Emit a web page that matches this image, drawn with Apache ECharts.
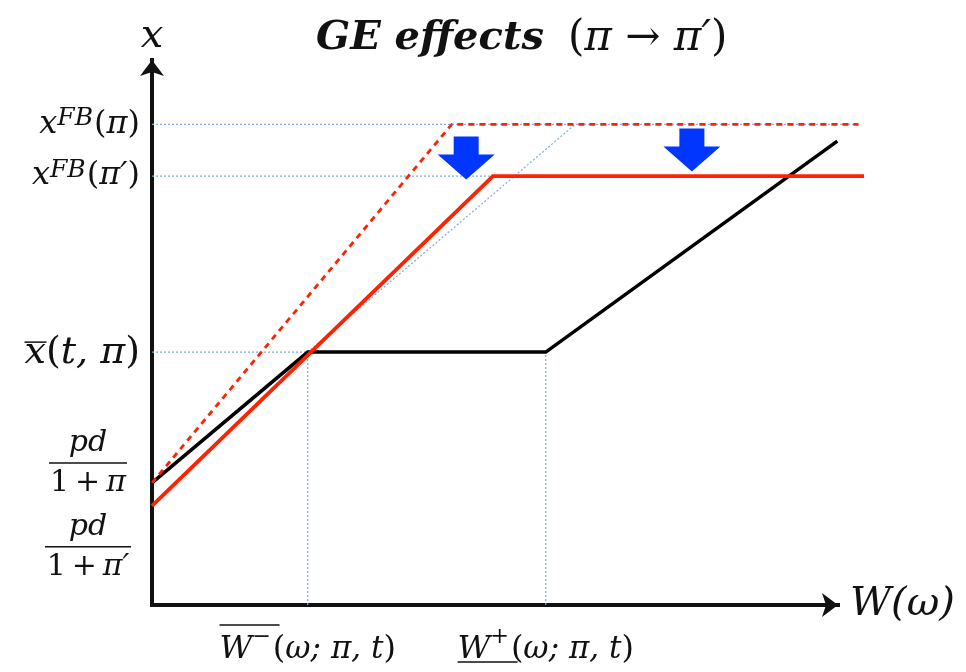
<!DOCTYPE html>
<html>
<head>
<meta charset="utf-8">
<script src="https://cdn.jsdelivr.net/npm/echarts@6/dist/echarts.min.js"></script>
<style>
  html, body { margin: 0; padding: 0; background: #ffffff; }
  #chart { width: 966px; height: 672px; }
</style>
</head>
<body>
<div id="chart"></div>
<script>
// Levels on the vertical axis (x)
const xFB = 88.2;        // x^FB(π)
const xFBprime = 78.7;   // x^FB(π')
const xBar = 46.4;       // x̄(t, π)
const pdPi = 22.4;       // pd/(1+π)
const pdPiPrime = 18.2;  // pd/(1+π')

// Thresholds on the horizontal axis W(ω)
const wMinus = 22.7;     // W̄⁻(ω; π, t)
const wPlus = 57.4;      // W̲⁺(ω; π, t)

// Black schedule: rises to x̄, flat between the thresholds, then rises again
const blackX = [0, wMinus, wPlus, 99.9];
const blackY = [pdPi, xBar, xBar, 85.1];

// Red schedule after the change (π')
const redX = [0, 49.7, 103.8];
const redY = [pdPiPrime, xFBprime, xFBprime];

// Red schedule before the change (π), dashed
const redDashX = [0, 43.7, 103.0];
const redDashY = [pdPi, xFB, xFB];

// Shifted slope guide
const diagX = [wMinus, 61.7];
const diagY = [xBar, xFB];

// Horizontal guide ends
const guideFBEnd = 103.0;
const guideFBprimeEnd = 64.6;

// Down arrows (centres)
const arrowX = [45.8, 78.7];
const arrowY = [82.0, 83.5];

// Tick positions and labels (main vertical axis)
const yTickValues = [pdPi, xBar, xFBprime, xFB];
const yTickLabels = [
  '{fnum|pd}\n{fbar|}\n{fden|1\u2009+\u2009}{fdi|π}\n{g40|}',
  '{xo|}\n{xbi|x}{xbr|(}{xbi|t, π}{xbr|)}',
  '{mi|x}{sup|FB}{rm|(}{mi|π′}{rm|)}',
  '{mi|x}{sup|FB}{rm|(}{mi|π}{rm|)}'
];
// Second label track for the lower intercept (stacked below the first fraction)
const yTickValues2 = [pdPiPrime];
const yTickLabels2 = [
  '{g82|}\n{fnum|pd}\n{fbar2|}\n{fden|1\u2009+\u2009}{fdi|π′}'
];
const xTickValues = [wMinus, wPlus];
const xTickLabels = [
  '{wo|}\n{g12|}\n{wi|W}{wsup|−}{wr|(}{wi2|ω; π, t}{wr|)}',
  '{g18|}\n{wi|W}{wsup|+}{wr|(}{wi2|ω; π, t}{wr|)}\n{wu|}'
];

const FONT = '"DejaVu Serif", "Liberation Serif", serif';
const INK = '#111111';
const RED = '#ff2200';
const GUIDE = '#7ea8f2';
const ARROW = '#0036ff';

// Plot scale: the drawing grid shares the frame's origin and units but reaches further right
const X_MAX = 100, Y_MAX = 100, X_MAX_DRAW = 110;
const LEFT = 152, TOP = 60, BOTTOM = 67, FRAME_RIGHT = 128;
const unitX = (966 - LEFT - FRAME_RIGHT) / X_MAX;
const DRAW_RIGHT = 966 - LEFT - unitX * X_MAX_DRAW;

const zip = (xs, ys) => xs.map((v, i) => [v, ys[i]]);

function guide(points) {
  return {
    type: 'line', xAxisIndex: 1, yAxisIndex: 1, data: points, symbol: 'none', clip: false, silent: true, z: 1,
    lineStyle: { color: GUIDE, width: 1.2, type: [2, 2] }
  };
}

const axisLineStyle = { show: true, onZero: false, symbol: ['none', 'arrow'], symbolSize: [18, 16],
  lineStyle: { color: INK, width: 4, cap: 'square' } };

const yRich = {
  mi: { fontFamily: FONT, fontStyle: 'italic', fontSize: 32, lineHeight: 34, color: INK },
  rm: { fontFamily: FONT, fontSize: 32, lineHeight: 34, color: INK },
  sup: { fontFamily: FONT, fontStyle: 'italic', fontSize: 25, lineHeight: 20, padding: [0, 1, 12, 0], color: INK },
  xo: { width: 22, height: 1.5, lineHeight: 2, backgroundColor: INK, align: 'left' },
  xbi: { fontFamily: FONT, fontStyle: 'italic', fontSize: 38, lineHeight: 20, align: 'left', color: INK },
  xbr: { fontFamily: FONT, fontSize: 38, lineHeight: 20, align: 'left', color: INK },
  fnum: { fontFamily: FONT, fontStyle: 'italic', fontSize: 30, lineHeight: 32, align: 'center', color: INK },
  fden: { fontFamily: FONT, fontSize: 30, lineHeight: 32, align: 'center', color: INK },
  fdi: { fontFamily: FONT, fontStyle: 'italic', fontSize: 30, lineHeight: 32, align: 'center', color: INK },
  fbar: { width: 78, height: 1.5, lineHeight: 8, backgroundColor: INK, align: 'center' },
  fbar2: { width: 86, height: 1.5, lineHeight: 8, backgroundColor: INK, align: 'center' },
  g40: { width: 104, height: 40, lineHeight: 40, align: 'center' },
  g82: { width: 104, height: 82, lineHeight: 82, align: 'center' }
};

const chart = echarts.init(document.getElementById('chart'), null, { renderer: 'canvas' });

chart.setOption({
  animation: false,
  backgroundColor: '#ffffff',
  title: {
    text: '{b|GE effects}{lp|(}{ni|π}{n| → }{ni|π′}{n|)}',
    left: 311,
    top: 13,
    textStyle: {
      rich: {
        b: { fontFamily: FONT, fontSize: 40, fontWeight: 'bold', fontStyle: 'italic', color: INK },
        lp: { fontFamily: FONT, fontSize: 42, fontWeight: 'normal', color: INK, padding: [0, 0, 0, 24] },
        n: { fontFamily: FONT, fontSize: 42, fontWeight: 'normal', color: INK },
        ni: { fontFamily: FONT, fontSize: 42, fontWeight: 'normal', fontStyle: 'italic', color: INK }
      }
    }
  },
  grid: [
    { left: LEFT, right: FRAME_RIGHT, top: TOP, bottom: BOTTOM, containLabel: false, outerBoundsMode: 'none' },
    { left: LEFT, right: DRAW_RIGHT, top: TOP, bottom: BOTTOM, containLabel: false, outerBoundsMode: 'none' }
  ],
  xAxis: [
    {
      gridIndex: 0, type: 'value', min: 0, max: X_MAX,
      name: 'W(ω)',
      nameLocation: 'end',
      nameGap: 12,
      nameTextStyle: { fontFamily: FONT, fontSize: 40, color: INK, fontStyle: 'italic', verticalAlign: 'middle' },
      axisLine: axisLineStyle,
      axisTick: { show: false },
      splitLine: { show: false },
      axisLabel: {
        customValues: xTickValues,
        showMinLabel: true, showMaxLabel: true, hideOverlap: false,
        margin: 17,
        color: INK,
        formatter: (v) => xTickLabels[xTickValues.indexOf(v)] || '',
        rich: {
          wo: { width: 60, height: 1.5, lineHeight: 6, backgroundColor: INK, align: 'left' },
          wu: { width: 60, height: 1.5, lineHeight: 6, backgroundColor: INK, align: 'left' },
          g12: { height: 12, lineHeight: 12, align: 'left' },
          g18: { height: 18, lineHeight: 18, align: 'left' },
          wi: { fontFamily: FONT, fontStyle: 'italic', fontSize: 32, lineHeight: 19, align: 'left', color: INK },
          wi2: { fontFamily: FONT, fontStyle: 'italic', fontSize: 31, lineHeight: 19, align: 'left', color: INK },
          wr: { fontFamily: FONT, fontSize: 32, lineHeight: 19, align: 'left', color: INK },
          wsup: { fontFamily: FONT, fontSize: 22, lineHeight: 14, padding: [0, 2, 24, 0], align: 'left', color: INK }
        }
      }
    },
    { gridIndex: 1, type: 'value', min: 0, max: X_MAX_DRAW, show: false }
  ],
  yAxis: [
    {
      gridIndex: 0, type: 'value', min: 0, max: Y_MAX,
      name: 'x',
      nameLocation: 'end',
      nameGap: 3,
      nameTextStyle: { fontFamily: FONT, fontSize: 40, color: INK, fontStyle: 'italic' },
      axisLine: axisLineStyle,
      axisTick: { show: false },
      splitLine: { show: false },
      axisLabel: {
        customValues: yTickValues,
        showMinLabel: true, showMaxLabel: true, hideOverlap: false,
        margin: 12,
        color: INK,
        formatter: (v) => yTickLabels[yTickValues.indexOf(v)] || '',
        rich: yRich
      }
    },
    { gridIndex: 1, type: 'value', min: 0, max: Y_MAX, show: false },
    {
      gridIndex: 0, type: 'value', min: 0, max: Y_MAX, position: 'left',
      axisLine: { show: false },
      axisTick: { show: false },
      splitLine: { show: false },
      axisLabel: {
        customValues: yTickValues2,
        showMinLabel: true, showMaxLabel: true, hideOverlap: false,
        margin: 12,
        color: INK,
        formatter: (v) => yTickLabels2[yTickValues2.indexOf(v)] || '',
        rich: yRich
      }
    }
  ],
  series: [
    guide([[0, xFB], [guideFBEnd, xFB]]),
    guide([[0, xFBprime], [guideFBprimeEnd, xFBprime]]),
    guide([[0, xBar], [wMinus, xBar]]),
    guide([[wMinus, 0], [wMinus, xBar]]),
    guide([[wPlus, 0], [wPlus, xBar]]),
    guide(zip(diagX, diagY)),
    {
      type: 'line', xAxisIndex: 1, yAxisIndex: 1, data: zip(blackX, blackY), symbol: 'none', clip: false, silent: true, z: 3,
      lineStyle: { color: '#000000', width: 3.5, join: 'miter' }
    },
    {
      type: 'line', xAxisIndex: 1, yAxisIndex: 1, data: zip(redDashX, redDashY), symbol: 'none', clip: false, silent: true, z: 4,
      lineStyle: { color: RED, width: 2.8, type: [6, 5] }
    },
    {
      type: 'line', xAxisIndex: 1, yAxisIndex: 1, data: zip(redX, redY), symbol: 'none', clip: false, silent: true, z: 5,
      lineStyle: { color: RED, width: 3.8, join: 'miter' }
    },
    {
      type: 'scatter', xAxisIndex: 1, yAxisIndex: 1, data: zip(arrowX, arrowY), clip: false, silent: true, z: 6,
      symbol: 'path://M16,0 L41,0 L41,18 L57,18 L28.5,43 L0,18 L16,18 Z',
      symbolSize: [57, 43],
      itemStyle: { color: ARROW, opacity: 1 }
    }
  ]
});
</script>
</body>
</html>
